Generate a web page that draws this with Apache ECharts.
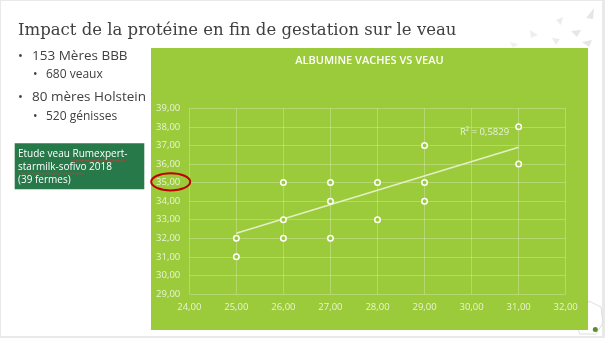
<!DOCTYPE html>
<html><head><meta charset="utf-8">
<script src="https://cdn.jsdelivr.net/npm/echarts@6/dist/echarts.min.js"></script>
<style>html,body{margin:0;padding:0;background:#e9e9e9}#c{width:605px;height:338px}</style>
</head><body><div id="c"></div>
<script>
// Data
const cowAlbumin = [25, 25, 26, 26, 26, 27, 27, 27, 28, 28, 29, 29, 29, 31, 31];   // x: vaches
const calfAlbumin = [32, 31, 35, 33, 32, 35, 34, 32, 35, 33, 37, 35, 34, 38, 36]; // y: veau
const trendX = [25, 31];
const trendY = [32.27, 36.90];
const xTicks = [24, 25, 26, 27, 28, 29, 30, 31, 32];
const yTicks = [29, 30, 31, 32, 33, 34, 35, 36, 37, 38, 39];
const r2Label = 'R² = 0,5829';
const chartTitle = 'ALBUMINE VACHES VS VEAU';
const pageTitle = 'Impact de la protéine en fin de gestation sur le veau';

const fmt = v => v.toFixed(2).replace('.', ',');
const GREEN = '#9BCB3A';
const LABEL = '#E9F4D3';
const SANS = '"Open Sans", "Noto Sans", sans-serif';

function zig(x0, x1, y) {
  const pts = []; let up = true;
  for (let x = x0; x <= x1; x += 1.5) { pts.push([x, up ? y - 0.7 : y + 0.7]); up = !up; }
  return pts;
}

const chart = echarts.init(document.getElementById('c'), null, {renderer: 'canvas'});
chart.setOption({
  animation: false,
  backgroundColor: '#e9e9e9',
  grid: {left: 189.3, right: 39.3, top: 108.3, bottom: 44, containLabel: false},
  xAxis: {
    type: 'value', min: xTicks[0], max: xTicks[xTicks.length - 1], interval: 1,
    axisLine: {show: false}, axisTick: {show: false},
    splitLine: {show: true, lineStyle: {color: 'rgba(255,255,255,0.25)', width: 1}},
    axisLabel: {color: LABEL, fontFamily: SANS, fontSize: 9.5, margin: 8, formatter: fmt}
  },
  yAxis: {
    type: 'value', min: yTicks[0], max: yTicks[yTicks.length - 1], interval: 1,
    axisLine: {show: false}, axisTick: {show: false},
    splitLine: {show: true, lineStyle: {color: 'rgba(255,255,255,0.25)', width: 1}},
    axisLabel: {color: LABEL, fontFamily: SANS, fontSize: 9.5, margin: 9, formatter: fmt}
  },
  series: [
    {
      type: 'line', data: trendX.map((x, i) => [x, trendY[i]]), symbol: 'none', z: 3,
      lineStyle: {color: '#E4EFC6', width: 1.5}, silent: true
    },
    {
      type: 'scatter', data: cowAlbumin.map((x, i) => [x, calfAlbumin[i]]), z: 4,
      symbol: 'circle', symbolSize: 5.5,
      itemStyle: {color: GREEN, borderColor: '#ffffff', borderWidth: 1.5, opacity: 1}
    }
  ],
  graphic: [
    {type: 'rect', z: -20, shape: {x: 1, y: 1, width: 601, height: 335}, style: {fill: '#ffffff'}},
    // decorative triangles
    {type: 'polygon', z: -19, shape: {points: [[586,18],[594,8],[593,19]]}, style: {fill: '#e6e6e6'}},
    {type: 'polygon', z: -19, shape: {points: [[571,31],[581,30],[577,37]]}, style: {fill: '#e6e6e6'}},
    {type: 'polygon', z: -19, shape: {points: [[582,42],[592,40],[589,47]]}, style: {fill: '#e6e6e6'}},
    {type: 'polygon', z: -19, shape: {points: [[556,20],[563,17],[561,25]]}, style: {fill: '#ececec'}},
    {type: 'polygon', z: -19, shape: {points: [[530,30],[538,35],[531,38]]}, style: {fill: '#eeeeee'}},
    {type: 'polygon', z: -19, shape: {points: [[552,38],[560,39],[556,45]]}, style: {fill: '#ececec'}},
    {type: 'polygon', z: -19, shape: {points: [[510,42],[518,44],[513,48]]}, style: {fill: '#f0f0f0'}},
    // hexagon bottom right
    {type: 'polygon', z: -19, shape: {points: [[589,301],[601,307],[603,323],[596,334],[580,334],[575,322]]},
      style: {fill: 'none', stroke: '#dedede', lineWidth: 1}},
    {type: 'circle', z: -18, shape: {cx: 595.3, cy: 329.5, r: 2.5}, style: {fill: '#5E8C2A'}},
    // green chart panel
    {type: 'rect', z: -10, shape: {x: 151, y: 48, width: 437, height: 282}, style: {fill: GREEN}},
    {type: 'text', z: 5, style: {text: chartTitle, x: 369.5, y: 61, align: 'center', verticalAlign: 'middle',
      fill: '#ffffff', font: '600 11px ' + SANS}},
    {type: 'text', z: 5, style: {text: r2Label, x: 460, y: 132, align: 'left', verticalAlign: 'middle',
      fill: LABEL, font: '9.5px ' + SANS}},
    // page title
    {type: 'text', z: 5, style: {text: pageTitle, x: 18, y: 31, align: 'left', verticalAlign: 'middle',
      fill: '#404040', font: '16.5px "DejaVu Serif", serif'}},
    // bullets
    {type: 'text', z: 5, style: {text: '•', x: 18, y: 56, verticalAlign: 'middle', fill: '#404040', font: '13px ' + SANS}},
    {type: 'text', z: 5, style: {text: '153 Mères BBB', x: 32, y: 56, verticalAlign: 'middle', fill: '#404040', font: '13.5px ' + SANS}},
    {type: 'text', z: 5, style: {text: '•', x: 33, y: 75, verticalAlign: 'middle', fill: '#404040', font: '12px ' + SANS}},
    {type: 'text', z: 5, style: {text: '680 veaux', x: 46, y: 75, verticalAlign: 'middle', fill: '#404040', font: '12px ' + SANS}},
    {type: 'text', z: 5, style: {text: '•', x: 18, y: 97, verticalAlign: 'middle', fill: '#404040', font: '13px ' + SANS}},
    {type: 'text', z: 5, style: {text: '80 mères Holstein', x: 32, y: 97, verticalAlign: 'middle', fill: '#404040', font: '13.5px ' + SANS}},
    {type: 'text', z: 5, style: {text: '•', x: 33, y: 117, verticalAlign: 'middle', fill: '#404040', font: '12px ' + SANS}},
    {type: 'text', z: 5, style: {text: '520 génisses', x: 46, y: 117, verticalAlign: 'middle', fill: '#404040', font: '12px ' + SANS}},
    // study box
    {type: 'rect', z: 4, shape: {x: 14.7, y: 143.3, width: 129.6, height: 46}, style: {fill: '#27794A'}},
    {type: 'text', z: 5, style: {text: 'Etude veau Rumexpert-\nstarmilk-sofivo 2018\n(39 fermes)', x: 18, y: 147.5,
      lineHeight: 13, verticalAlign: 'top', fill: '#ffffff', font: '10px ' + SANS}},
    {type: 'polyline', z: 6, shape: {points: zig(71, 125, 160.5)}, style: {stroke: '#d33', lineWidth: 0.7, fill: 'none'}},
    {type: 'polyline', z: 6, shape: {points: zig(18, 84, 173.5)}, style: {stroke: '#d33', lineWidth: 0.7, fill: 'none'}},
    // red ellipse
    {type: 'ellipse', z: 10, shape: {cx: 170.7, cy: 181.8, rx: 19.5, ry: 8.6}, style: {fill: 'none', stroke: '#C00000', lineWidth: 2}}
  ]
});
</script></body></html>
